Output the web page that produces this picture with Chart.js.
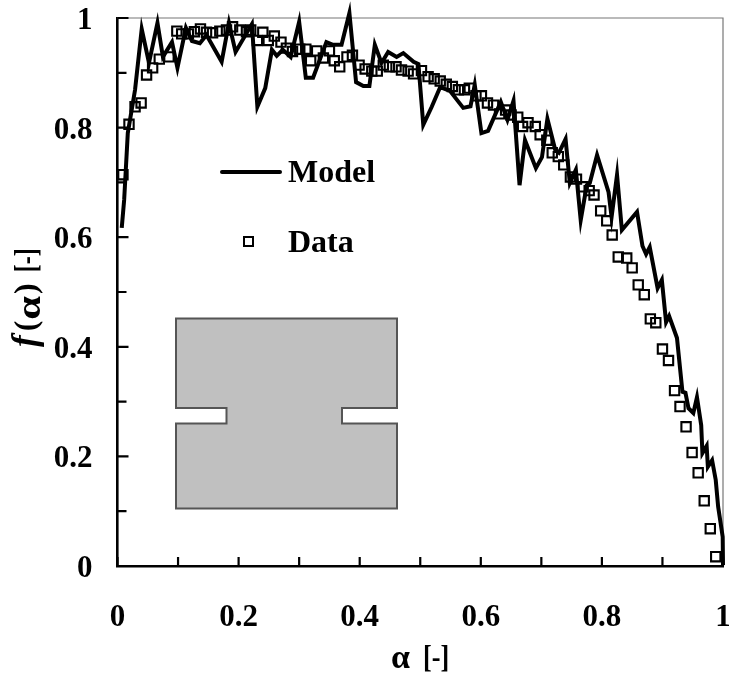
<!DOCTYPE html>
<html>
<head>
<meta charset="utf-8">
<title>f(alpha) vs alpha</title>
<script src="https://cdn.jsdelivr.net/npm/chart.js@4"></script>
<style>
    html, body { margin: 0; padding: 0; background: #fff; }
    canvas { display: block; }
</style>
</head>
<body>
<canvas id="chart" width="729" height="680"></canvas>
<script>
const modelAlpha = [0.007,0.011,0.017,0.029,0.040,0.052,0.066,0.075,0.090,0.099,0.113,0.123,0.136,0.147,0.172,0.184,0.195,0.222,0.231,0.244,0.255,0.263,0.273,0.286,0.300,0.311,0.323,0.345,0.356,0.370,0.383,0.394,0.406,0.416,0.425,0.436,0.447,0.461,0.472,0.489,0.497,0.505,0.519,0.533,0.549,0.571,0.583,0.590,0.601,0.612,0.633,0.644,0.654,0.664,0.673,0.691,0.701,0.710,0.723,0.729,0.740,0.747,0.757,0.765,0.775,0.780,0.792,0.811,0.816,0.825,0.833,0.858,0.867,0.873,0.879,0.892,0.899,0.906,0.911,0.924,0.933,0.938,0.943,0.951,0.957,0.964,0.966,0.973,0.975,0.982,0.988,0.992,0.9995,1.0];
const modelF = [0.617,0.668,0.790,0.869,0.980,0.918,0.991,0.929,0.956,0.909,0.982,0.958,0.954,0.969,0.920,0.991,0.938,0.989,0.838,0.872,0.942,0.931,0.942,0.929,0.993,0.891,0.891,0.956,0.951,0.951,1.009,0.883,0.876,0.876,0.951,0.918,0.938,0.929,0.936,0.920,0.916,0.805,0.838,0.874,0.867,0.836,0.839,0.878,0.790,0.794,0.847,0.814,0.849,0.695,0.777,0.726,0.746,0.816,0.759,0.754,0.779,0.699,0.723,0.631,0.695,0.699,0.750,0.682,0.637,0.714,0.613,0.646,0.584,0.569,0.582,0.507,0.522,0.445,0.456,0.416,0.318,0.316,0.288,0.279,0.308,0.257,0.206,0.219,0.181,0.193,0.157,0.108,0.053,0.002];

const dataAlpha = [0.009,0.019,0.029,0.039,0.048,0.058,0.069,0.085,0.098,0.106,0.117,0.127,0.137,0.147,0.157,0.169,0.180,0.190,0.202,0.213,0.220,0.231,0.240,0.249,0.259,0.270,0.279,0.289,0.301,0.311,0.319,0.329,0.340,0.350,0.358,0.367,0.379,0.388,0.399,0.409,0.420,0.429,0.439,0.449,0.460,0.469,0.480,0.489,0.502,0.513,0.523,0.533,0.543,0.553,0.563,0.573,0.581,0.592,0.601,0.611,0.621,0.631,0.641,0.650,0.661,0.669,0.678,0.690,0.698,0.709,0.718,0.728,0.737,0.748,0.758,0.769,0.779,0.787,0.798,0.808,0.817,0.827,0.841,0.850,0.860,0.870,0.880,0.889,0.900,0.910,0.920,0.929,0.939,0.949,0.959,0.969,0.979,0.988];
const dataF = [0.714,0.806,0.838,0.845,0.896,0.909,0.925,0.929,0.976,0.971,0.971,0.975,0.980,0.974,0.973,0.976,0.978,0.984,0.978,0.975,0.978,0.959,0.974,0.959,0.967,0.956,0.945,0.939,0.943,0.943,0.922,0.940,0.927,0.940,0.922,0.911,0.929,0.932,0.914,0.907,0.903,0.903,0.914,0.911,0.911,0.905,0.903,0.898,0.904,0.893,0.889,0.885,0.879,0.875,0.869,0.869,0.872,0.858,0.858,0.845,0.841,0.825,0.832,0.823,0.819,0.802,0.809,0.802,0.787,0.777,0.754,0.747,0.732,0.710,0.706,0.692,0.685,0.677,0.648,0.630,0.604,0.564,0.562,0.544,0.513,0.495,0.451,0.444,0.396,0.375,0.320,0.291,0.254,0.207,0.170,0.119,0.068,0.017];

const minorTicks = [0.1, 0.3, 0.5, 0.7, 0.9];
const majorTicks = [0, 0.2, 0.4, 0.6, 0.8, 1];

const serif = '"Liberation Serif", "Times New Roman", serif';
const legendFont = `bold 32px ${serif}`;
const titleFont = `bold 32px ${serif}`;
const alphaFont = `bold 34px ${serif}`;

// runs of text with different fonts, laid out left to right;
// sx squeezes or widens a run, dy nudges it off the baseline
function drawRuns(ctx, runs, x, y) {
    runs.forEach(run => {
        const sx = run.sx || 1;
        ctx.font = run.font;
        ctx.save();
        ctx.translate(x, y + (run.dy || 0));
        ctx.scale(sx, 1);
        ctx.fillText(run.text, 0, 0);
        ctx.restore();
        x += ctx.measureText(run.text).width * sx + (run.gap || 0);
    });
}

const decorations = {
    id: 'decorations',
    beforeDatasetsDraw(chart) {
        const { ctx, chartArea, scales } = chart;
        ctx.save();

        // top and right frame are thin and grey in the original
        ctx.strokeStyle = '#777';
        ctx.lineWidth = 1.2;
        ctx.beginPath();
        ctx.moveTo(chartArea.left, chartArea.top);
        ctx.lineTo(chartArea.right, chartArea.top);
        ctx.lineTo(chartArea.right, chartArea.bottom);
        ctx.stroke();

        // ticks point into the plot
        ctx.strokeStyle = '#000';
        ctx.lineWidth = 2.2;
        ctx.beginPath();
        majorTicks.concat(minorTicks).forEach(v => {
            const px = scales.x.getPixelForValue(v);
            ctx.moveTo(px, chartArea.bottom);
            ctx.lineTo(px, chartArea.bottom - 9);
        });
        majorTicks.forEach(v => {
            const py = scales.y.getPixelForValue(v);
            ctx.moveTo(chartArea.left, py);
            ctx.lineTo(chartArea.left + 11, py);
        });
        minorTicks.forEach(v => {
            const py = scales.y.getPixelForValue(v);
            ctx.moveTo(chartArea.left, py);
            ctx.lineTo(chartArea.left + 9, py);
        });
        ctx.stroke();

        // specimen sketch
        ctx.fillStyle = '#c0c0c0';
        ctx.strokeStyle = '#555';
        ctx.lineWidth = 2;
        ctx.beginPath();
        ctx.moveTo(176, 318.5);
        ctx.lineTo(397, 318.5);
        ctx.lineTo(397, 408);
        ctx.lineTo(342, 408);
        ctx.lineTo(342, 423.5);
        ctx.lineTo(397, 423.5);
        ctx.lineTo(397, 508.5);
        ctx.lineTo(176, 508.5);
        ctx.lineTo(176, 423.5);
        ctx.lineTo(226.5, 423.5);
        ctx.lineTo(226.5, 408);
        ctx.lineTo(176, 408);
        ctx.closePath();
        ctx.fill();
        ctx.stroke();

        // legend
        ctx.strokeStyle = '#000';
        ctx.lineWidth = 4;
        ctx.lineCap = 'round';
        ctx.beginPath();
        ctx.moveTo(222, 172);
        ctx.lineTo(280, 172);
        ctx.stroke();
        ctx.lineWidth = 2;
        ctx.strokeRect(244, 237, 9, 9);

        ctx.fillStyle = '#000';
        ctx.textBaseline = 'alphabetic';
        ctx.textAlign = 'left';
        ctx.font = legendFont;
        ctx.fillText(chart.data.datasets[0].label, 288, 182);
        ctx.fillText(chart.data.datasets[1].label, 288, 252);

        // axis titles
        drawRuns(ctx, [
            { text: 'α', font: alphaFont, gap: 13, dy: 1 },
            { text: '[-]', font: titleFont, sx: 0.82 }
        ], 391, 667);

        ctx.translate(36, 347);
        ctx.rotate(-Math.PI / 2);
        drawRuns(ctx, [
            { text: 'f', font: `italic bold 35px ${serif}`, gap: 4 },
            { text: '(', font: titleFont, gap: 1 },
            { text: 'α', font: alphaFont, sx: 1.25, dy: 4, gap: 2 },
            { text: ')', font: titleFont, gap: 11 },
            { text: '[-]', font: titleFont, sx: 0.75 }
        ], 0, 0);

        ctx.restore();
    }
};

new Chart(document.getElementById('chart'), {
    type: 'scatter',
    data: {
        datasets: [
            {
                label: 'Model',
                data: modelAlpha.map((x, i) => ({ x, y: modelF[i] })),
                showLine: true,
                borderColor: '#000',
                borderWidth: 4,
                borderJoinStyle: 'miter',
                tension: 0,
                pointRadius: 0,
                clip: false
            },
            {
                label: 'Data',
                data: dataAlpha.map((x, i) => ({ x, y: dataF[i] })),
                showLine: false,
                pointStyle: 'rect',
                pointRadius: 6.6,
                pointBorderWidth: 2.1,
                pointBorderColor: '#000',
                pointBackgroundColor: 'rgba(0,0,0,0)',
                clip: false
            }
        ]
    },
    plugins: [decorations],
    options: {
        responsive: false,
        animation: false,
        layout: { autoPadding: false, padding: { top: 18, right: 6, left: 0, bottom: 0 } },
        plugins: { legend: { display: false }, tooltip: { enabled: false } },
        scales: {
            x: {
                min: 0,
                max: 1,
                grid: { display: false },
                border: { color: '#000', width: 2.6 },
                ticks: {
                    stepSize: 0.2,
                    maxRotation: 0,
                    padding: 25,
                    color: '#000',
                    font: { family: serif, size: 31, weight: 'bold' },
                    callback: v => +v.toFixed(1)
                },
                afterFit(s) {
                    s.height = 114;
                    s.paddingLeft = 0;
                    s.paddingRight = 0;
                }
            },
            y: {
                min: 0,
                max: 1,
                grid: { display: false },
                border: { color: '#000', width: 2.6 },
                ticks: {
                    stepSize: 0.2,
                    padding: 17,
                    labelOffset: 3,
                    color: '#000',
                    font: { family: serif, size: 31, weight: 'bold' },
                    callback: v => +v.toFixed(1)
                },
                afterFit(s) {
                    s.width = 117.5;
                    s.paddingTop = 0;
                    s.paddingBottom = 0;
                }
            }
        }
    }
});
</script>
</body>
</html>
